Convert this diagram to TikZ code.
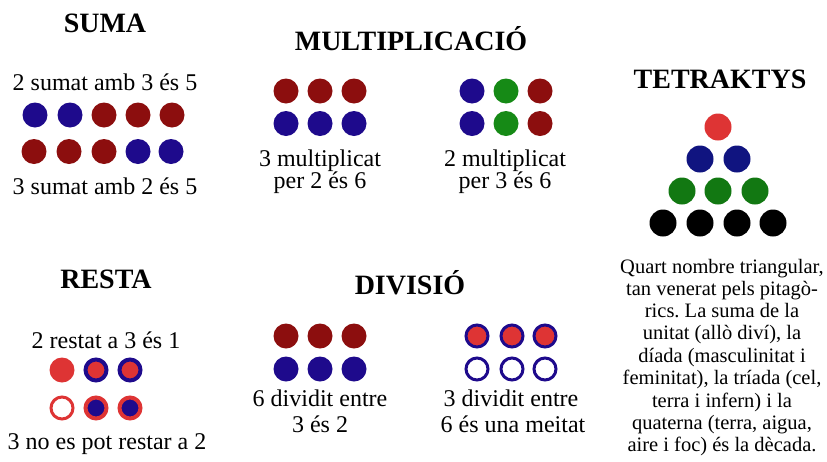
\documentclass[tikz,border=0pt]{standalone}
\usepackage{fontspec}
\setmainfont{Liberation Serif}
\frenchspacing
\definecolor{dred}{RGB}{140,14,14}
\definecolor{dblue}{RGB}{30,10,140}
\definecolor{dgreen}{RGB}{22,138,22}
\definecolor{lred}{RGB}{222,52,52}
\definecolor{tblue}{RGB}{16,20,128}
\definecolor{tgreen}{RGB}{18,120,18}
\begin{document}
\begin{tikzpicture}[x=1pt,y=-1pt,
  pdot/.style={circle,inner sep=0pt,outer sep=0pt,minimum size=25pt,fill=#1},
  tdot/.style={circle,inner sep=0pt,outer sep=0pt,minimum size=27pt,fill=#1},
  ringdot/.style 2 args={circle,inner sep=0pt,minimum size=21pt,draw=#1,line width=4pt,fill=#2},
  thinring/.style 2 args={circle,inner sep=0pt,minimum size=22pt,draw=#1,line width=3pt,fill=#2},
  ttl/.style={font=\fontsize{28}{30}\selectfont\bfseries,anchor=base,inner sep=0pt},
  txt/.style={font=\fontsize{24}{26}\selectfont,anchor=base,inner sep=0pt},
  small/.style={font=\fontsize{20.5}{22}\selectfont,anchor=base,inner sep=0pt}]
\useasboundingbox[fill=white] (0,0) rectangle (827,461);
% SUMA
\node[ttl] (suma) at (105,32) {SUMA};
\node[txt] (s1) at (105,90) {2 sumat amb 3 és 5};
\node[pdot=dblue] (sa1) at (35,115) {};
\node[pdot=dblue] (sa2) at (70,115) {};
\node[pdot=dred] (sa3) at (104,115) {};
\node[pdot=dred] (sa4) at (138,115) {};
\node[pdot=dred] (sa5) at (172,115) {};
\node[pdot=dred] (sb1) at (34,151.5) {};
\node[pdot=dred] (sb2) at (69,151.5) {};
\node[pdot=dred] (sb3) at (104,151.5) {};
\node[pdot=dblue] (sb4) at (138,151.5) {};
\node[pdot=dblue] (sb5) at (171,151.5) {};
\node[txt] (s2) at (105,194) {3 sumat amb 2 és 5};
% MULTIPLICACIO
\node[ttl] (mult) at (411,50) {MULTIPLICACIÓ};
\node[pdot=dred] (ma1) at (286,91) {};
\node[pdot=dred] (ma2) at (320,91) {};
\node[pdot=dred] (ma3) at (354,91) {};
\node[pdot=dblue] (mb1) at (286,123.5) {};
\node[pdot=dblue] (mb2) at (320,123.5) {};
\node[pdot=dblue] (mb3) at (354,123.5) {};
\node[txt] (m1) at (320,166) {3 multiplicat};
\node[txt] (m2) at (320,188) {per 2 és 6};
\node[pdot=dblue] (mc1) at (472,91) {};
\node[pdot=dgreen] (mc2) at (506,91) {};
\node[pdot=dred] (mc3) at (540,91) {};
\node[pdot=dblue] (md1) at (472,123.5) {};
\node[pdot=dgreen] (md2) at (506,123.5) {};
\node[pdot=dred] (md3) at (540,123.5) {};
\node[txt] (m3) at (505,166) {2 multiplicat};
\node[txt] (m4) at (505,188) {per 3 és 6};
% TETRAKTYS
\node[ttl] (tetra) at (720,88) {TETRAKTYS};
\node[tdot=lred] (t1) at (718,127) {};
\node[tdot=tblue] (t21) at (700,159) {};
\node[tdot=tblue] (t22) at (737,159) {};
\node[tdot=tgreen] (t31) at (682,191) {};
\node[tdot=tgreen] (t32) at (718,191) {};
\node[tdot=tgreen] (t33) at (755,191) {};
\node[tdot=black] (t41) at (663,223) {};
\node[tdot=black] (t42) at (700,223) {};
\node[tdot=black] (t43) at (737,223) {};
\node[tdot=black] (t44) at (773,223) {};
\node[small] (l1) at (722,273) {Quart nombre triangular,};
\node[small] (l2) at (722,295.2) {tan venerat pels pitagò-};
\node[small] (l3) at (722,317.5) {rics. La suma de la};
\node[small] (l4) at (722,339.7) {unitat (allò diví), la};
\node[small] (l5) at (722,362) {díada (masculinitat i};
\node[small] (l6) at (722,384.5) {feminitat), la tríada (cel,};
\node[small] (l7) at (722,407) {terra i infern) i la};
\node[small] (l8) at (722,429) {quaterna (terra, aigua,};
\node[small] (l9) at (722,451.5) {aire i foc) és la dècada.};
% RESTA
\node[ttl] (resta) at (106,288) {RESTA};
\node[txt] (r1) at (106,348) {2 restat a 3 és 1};
\node[pdot=lred] (ra1) at (62,370) {};
\node[ringdot={dblue}{lred}] (ra2) at (96,370) {};
\node[ringdot={dblue}{lred}] (ra3) at (130,370) {};
\node[thinring={lred}{white}] (rb1) at (62,408) {};
\node[ringdot={lred}{dblue}] (rb2) at (96,408) {};
\node[ringdot={lred}{dblue}] (rb3) at (130,408) {};
\node[txt] (r2) at (107,449) {3 no es pot restar a 2};
% DIVISIO
\node[ttl] (div) at (410,294) {DIVISIÓ};
\node[pdot=dred] (da1) at (286,336) {};
\node[pdot=dred] (da2) at (320,336) {};
\node[pdot=dred] (da3) at (354,336) {};
\node[pdot=dblue] (db1) at (286,369) {};
\node[pdot=dblue] (db2) at (320,369) {};
\node[pdot=dblue] (db3) at (354,369) {};
\node[txt] (d1) at (320,406) {6 dividit entre};
\node[txt] (d2) at (320,432) {3 és 2};
\node[thinring={dblue}{lred}] (dc1) at (477,336) {};
\node[thinring={dblue}{lred}] (dc2) at (512,336) {};
\node[thinring={dblue}{lred}] (dc3) at (545,336) {};
\node[thinring={dblue}{white}] (dd1) at (477,369) {};
\node[thinring={dblue}{white}] (dd2) at (512,369) {};
\node[thinring={dblue}{white}] (dd3) at (545,369) {};
\node[txt] (d3) at (511,406) {3 dividit entre};
\node[txt] (d4) at (513,432) {6 és una meitat};
\end{tikzpicture}
\end{document}
